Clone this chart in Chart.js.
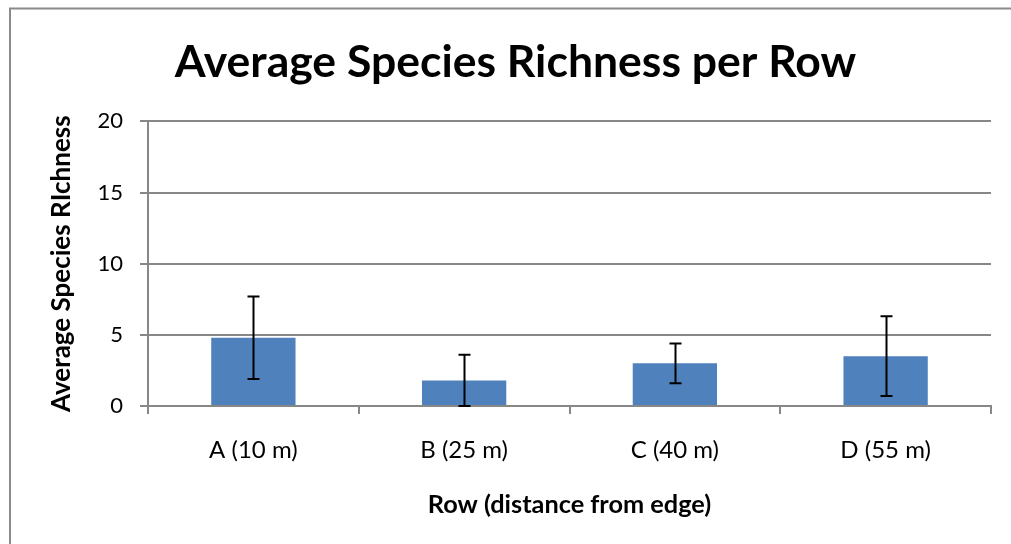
<!DOCTYPE html>
<html lang="en">
<head>
    <meta charset="UTF-8">
    <title>Average Species Richness per Row</title>
    <style>
        body { margin: 0; background: #fff; }
        #grafico { display: block; }
    </style>
</head>
<body>
    <canvas id="grafico" width="1011" height="544"></canvas>

<script src="https://cdn.jsdelivr.net/npm/chart.js"></script>
<script>
    // dados
    const linhas = ['A (10 m)', 'B (25 m)', 'C (40 m)', 'D (55 m)'];
    const riqueza = [4.8, 1.8, 3.0, 3.5];
    const erro = [2.9, 1.8, 1.4, 2.8];
    const yTicks = [0, 5, 10, 15, 20];

    const fonte = 'Lato, "Open Sans", sans-serif';
    const cinza = '#878787';

    // moldura do gráfico (estilo Excel)
    const moldura = {
        id: 'moldura',
        beforeDraw(chart) {
            const ctx = chart.ctx;
            ctx.save();
            ctx.fillStyle = '#fff';
            ctx.fillRect(0, 0, chart.width, chart.height);
            ctx.strokeStyle = '#8a8a8a';
            ctx.lineWidth = 2;
            ctx.strokeRect(10, 8.5, 1200, 1000);
            ctx.restore();
        }
    };

    // barras de erro desenhadas pelas escalas do próprio Chart.js
    const barrasErro = {
        id: 'barrasErro',
        afterDatasetsDraw(chart) {
            const ctx = chart.ctx;
            const yScale = chart.scales.y;
            const meta = chart.getDatasetMeta(0);
            ctx.save();
            ctx.strokeStyle = '#000';
            ctx.lineWidth = 2;
            meta.data.forEach((barra, i) => {
                const x = Math.round(barra.x) + 0.5;
                const topo = yScale.getPixelForValue(riqueza[i] + erro[i]);
                const base = yScale.getPixelForValue(Math.max(0, riqueza[i] - erro[i]));
                ctx.beginPath();
                ctx.moveTo(x, topo);
                ctx.lineTo(x, base);
                ctx.moveTo(x - 6, topo);
                ctx.lineTo(x + 6, topo);
                ctx.moveTo(x - 6, base);
                ctx.lineTo(x + 6, base);
                ctx.stroke();
            });
            ctx.restore();
        }
    };

    const config = {
        type: 'bar',
        data: {
            labels: linhas,
            datasets: [{
                label: 'Average Species Richness',
                data: riqueza,
                backgroundColor: '#4F81BD',
                borderWidth: 0,
                categoryPercentage: 1,
                barPercentage: 0.4
            }]
        },
        options: {
            responsive: false,
            animation: false,
            layout: { padding: { left: 40, right: 20, top: 0, bottom: 0 } },
            plugins: {
                legend: { display: false },
                tooltip: { enabled: false },
                title: {
                    display: true,
                    text: 'Average Species Richness per Row',
                    color: '#000',
                    font: { family: fonte, size: 44.5, weight: 'bold' },
                    padding: { top: 36, bottom: 32 }
                }
            },
            scales: {
                x: {
                    grid: {
                        drawOnChartArea: false,
                        drawTicks: true,
                        tickLength: 8,
                        color: cinza,
                        lineWidth: 2
                    },
                    border: { color: cinza, width: 2 },
                    ticks: {
                        color: '#000',
                        font: { family: fonte, size: 24 },
                        padding: 22
                    },
                    title: {
                        display: true,
                        text: 'Row (distance from edge)',
                        color: '#000',
                        font: { family: fonte, size: 25.3, weight: 'bold' },
                        padding: { top: 20, bottom: 24 }
                    },
                    afterFit(escala) { escala.height = 138; }
                },
                y: {
                    min: 0,
                    max: 20,
                    afterBuildTicks(escala) {
                        escala.ticks = yTicks.map(v => ({ value: v }));
                    },
                    grid: {
                        color: cinza,
                        lineWidth: 2,
                        tickLength: 8
                    },
                    border: { color: cinza, width: 2 },
                    ticks: {
                        color: '#000',
                        font: { family: fonte, size: 22 },
                        padding: 17
                    },
                    title: {
                        display: true,
                        text: 'Average Species RIchness',
                        color: '#000',
                        font: { family: fonte, size: 26, weight: 'bold' },
                        padding: { top: 6, bottom: 0 }
                    },
                    afterFit(escala) { escala.width = 108; }
                }
            }
        },
        plugins: [moldura, barrasErro]
    };

    let myChart = new Chart(document.getElementById('grafico'), config);
</script>
</body>
</html>
